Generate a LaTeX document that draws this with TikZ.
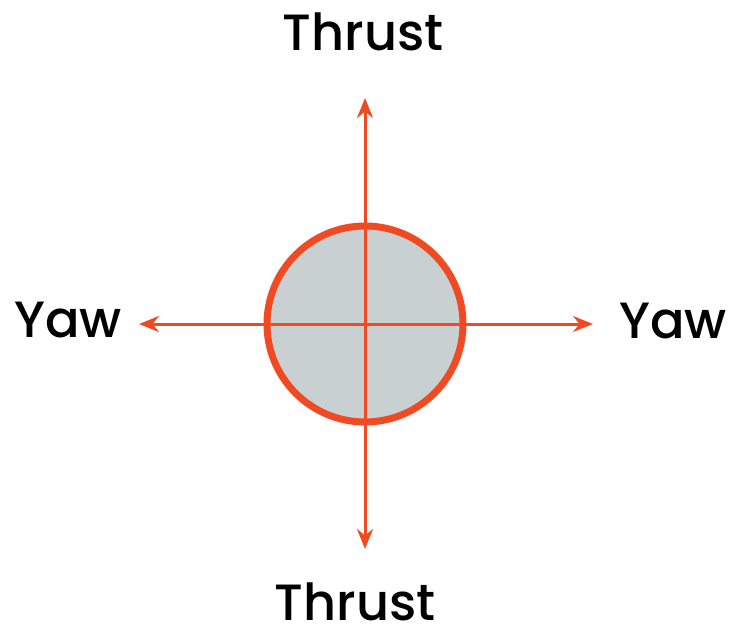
\documentclass[tikz,border=0pt]{standalone}
\usepackage{fontspec}
\IfFontExistsTF{Poppins Medium}{\setmainfont{Poppins Medium}}{\setmainfont{Poppins}}
\usetikzlibrary{arrows.meta}
\definecolor{thrust}{HTML}{F04A23}
\definecolor{body}{HTML}{C9D0D2}
\tikzset{
  lbl/.style={font=\fontsize{51}{60}\selectfont, text=black, inner sep=0pt, anchor=base},
  axis/.style={draw=thrust, line width=3pt, -{Stealth[length=20pt,width=16pt]}},
}
\begin{document}
\begin{tikzpicture}[x=1pt,y=-1pt]
\useasboundingbox (0,0) rectangle (731,629);
\node[circle, fill=body, draw=thrust, line width=7pt, minimum size=196pt, inner sep=0pt] (c) at (365,324) {};
\coordinate (top) at (365,98);
\coordinate (bot) at (365,549);
\coordinate (lft) at (139,324);
\coordinate (rgt) at (593,324);
\draw[axis] (c.center) -- (top);
\draw[axis] (c.center) -- (bot);
\draw[axis] (c.center) -- (lft);
\draw[axis] (c.center) -- (rgt);
\node[lbl] (t1) at (363,50) {Thrust};
\node[lbl] (t2) at (355,620) {Thrust};
\node[lbl] (y1) at (68,337) {Yaw};
\node[lbl] (y2) at (673,338) {Yaw};
\end{tikzpicture}
\end{document}
